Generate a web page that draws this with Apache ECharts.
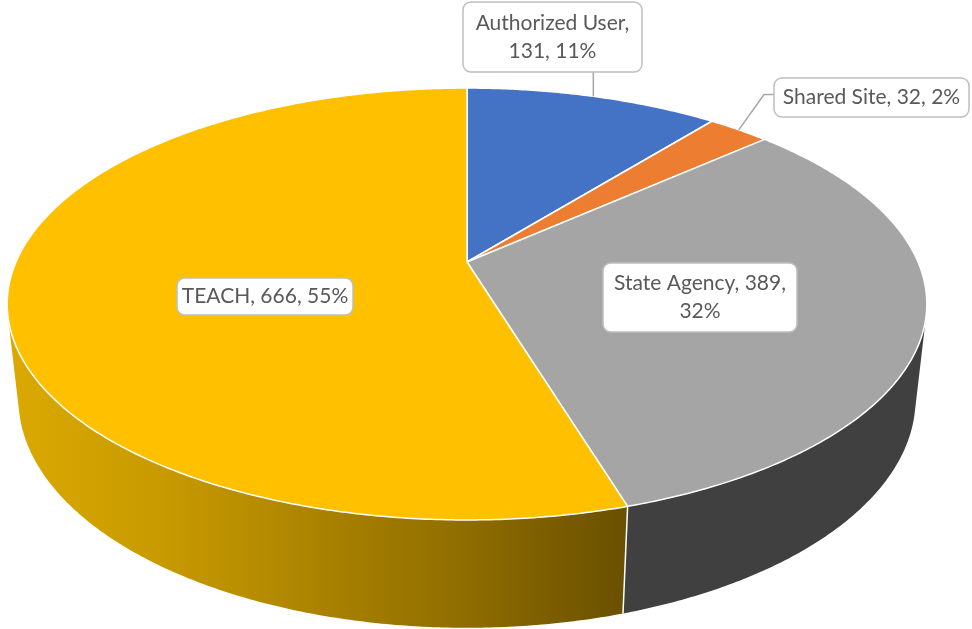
<!DOCTYPE html>
<html>
<head>
<meta charset="utf-8">
<script src="https://cdn.jsdelivr.net/npm/echarts@6/dist/echarts.min.js"></script>
<style>
html,body{margin:0;padding:0;background:#fff;}
#chart{width:972px;height:629px;}
</style>
</head>
<body>
<div id="chart"></div>
<script>
// ---- data ----
const categories = ['Authorized User', 'Shared Site', 'State Agency', 'TEACH'];
const values = [131, 32, 389, 666];
const percentLabels = ['11%', '2%', '32%', '55%'];

// ---- style / layout ----
const topColors = ['#4472C4', '#ED7D31', '#A5A5A5', '#FFC000'];
const wallColors = [
  '#2A4778',
  '#8E4B1D',
  '#404040',
  null // gradient
];
// label boxes: centre, size, where the text is broken, leader style
const labelLayout = [
  { x: 552.5, y: 37, w: 179, h: 70, breakAfter: 0, leader: 'down' },
  { x: 871.5, y: 97.5, w: 195, h: 39, breakAfter: -1, leader: 'left' },
  { x: 700, y: 297.5, w: 194, h: 69, breakAfter: 1, leader: null },
  { x: 265, y: 296.5, w: 176, h: 37, breakAfter: -1, leader: null }
];

// perspective camera for a pie of radius 1
const CAM = { cx: 467, cy: 262, F: 2058, L: 4.563, sinPhi: 0.4607, h: 0.239 };
CAM.cosPhi = Math.sqrt(1 - CAM.sinPhi * CAM.sinPhi);
function proj(thetaDeg, r, Y) {
  const t = thetaDeg * Math.PI / 180;
  const X = r * Math.sin(t), Z = r * Math.cos(t);
  const d = CAM.L - Y * CAM.sinPhi + Z * CAM.cosPhi;
  const yc = Y * CAM.cosPhi + Z * CAM.sinPhi;
  return [CAM.cx + CAM.F * X / d, CAM.cy - CAM.F * yc / d];
}
// visible wall range: cos(theta) < -1/(L cos phi)
const visLim = Math.acos(-1 / (CAM.L * CAM.cosPhi)) * 180 / Math.PI; // ~104
const visA = visLim, visB = 360 - visLim;

const total = values.reduce((a, b) => a + b, 0);
const starts = [], ends = [];
{
  let acc = 0;
  values.forEach(v => {
    starts.push(acc / total * 360);
    acc += v;
    ends.push(acc / total * 360);
  });
}
function arc(a, b, r, Y) {
  const pts = [];
  const n = Math.max(2, Math.ceil((b - a) / 0.5));
  for (let i = 0; i <= n; i++) pts.push(proj(a + (b - a) * i / n, r, Y));
  return pts;
}

const yellowWall = new echarts.graphic.LinearGradient(8, 0, 625, 0, [
  { offset: 0, color: '#DBA901' },
  { offset: 0.25, color: '#C89A00' },
  { offset: 0.75, color: '#8E6C00' },
  { offset: 1, color: '#6A5000' }
], true);

function renderWall(params, api) {
  const i = params.dataIndex;
  const a = Math.max(starts[i], visA), b = Math.min(ends[i], visB);
  const children = [];
  if (b > a) {
    const top = arc(a, b, 1, 0);
    const bot = arc(a, b, 1, -CAM.h).reverse();
    children.push({
      type: 'polygon',
      shape: { points: top.concat(bot) },
      style: { fill: wallColors[i] || yellowWall, stroke: null }
    });
  }
  // white vertical edge at slice start if visible
  if (starts[i] > visA && starts[i] < visB) {
    const p1 = proj(starts[i], 1, 0), p2 = proj(starts[i], 1, -CAM.h);
    children.push({
      type: 'line', z2: 5,
      shape: { x1: p1[0], y1: p1[1], x2: p2[0], y2: p2[1] },
      style: { stroke: '#FFFFFF', lineWidth: 1.5 }
    });
  }
  return { type: 'group', children };
}

function renderTop(params, api) {
  const i = params.dataIndex;
  const pts = [proj(0, 0, 0)].concat(arc(starts[i], ends[i], 1, 0));
  return {
    type: 'polygon',
    shape: { points: pts },
    style: { fill: topColors[i], stroke: '#FFFFFF', lineWidth: 1.5, lineJoin: 'round' }
  };
}

function labelText(i) {
  const parts = [categories[i], String(values[i]), percentLabels[i]];
  const br = labelLayout[i].breakAfter;
  if (br < 0) return parts.join(', ');
  return parts.slice(0, br + 1).join(', ') + ',\n' + parts.slice(br + 1).join(', ');
}

function renderLabel(params, api) {
  const i = params.dataIndex;
  const L = labelLayout[i];
  const children = [];
  const mid = (starts[i] + ends[i]) / 2;
  const rim = proj(mid, 1, 0);
  if (L.leader === 'down') {
    children.push({
      type: 'polyline',
      shape: { points: [[rim[0], L.y + L.h / 2], rim] },
      style: { stroke: '#A6A6A6', lineWidth: 1.5, fill: null }
    });
  } else if (L.leader === 'left') {
    const bx = L.x - L.w / 2;
    const by = L.y - 3;
    children.push({
      type: 'polyline',
      shape: { points: [[bx, by], [bx - 10, by], rim] },
      style: { stroke: '#A6A6A6', lineWidth: 1.5, fill: null }
    });
  }
  children.push({
    type: 'rect',
    shape: { x: L.x - L.w / 2, y: L.y - L.h / 2, width: L.w, height: L.h, r: 8 },
    style: { fill: '#FFFFFF', stroke: '#BFBFBF', lineWidth: 1.5 }
  });
  children.push({
    type: 'text',
    x: L.x, y: L.y,
    style: {
      text: labelText(i),
      fill: '#595959',
      fontSize: 21,
      fontFamily: 'Lato',
      align: 'center',
      verticalAlign: 'middle',
      lineHeight: 28
    }
  });
  return { type: 'group', children };
}

const chart = echarts.init(document.getElementById('chart'), null, { renderer: 'canvas' });
chart.setOption({
  backgroundColor: '#FFFFFF',
  animation: false,
  series: [
    { type: 'custom', coordinateSystem: 'none', z: 1, silent: true, renderItem: renderWall, data: values },
    { type: 'custom', coordinateSystem: 'none', z: 2, silent: true, renderItem: renderTop, data: values },
    { type: 'custom', coordinateSystem: 'none', z: 3, silent: true, renderItem: renderLabel, data: values }
  ]
});
</script>
</body>
</html>
